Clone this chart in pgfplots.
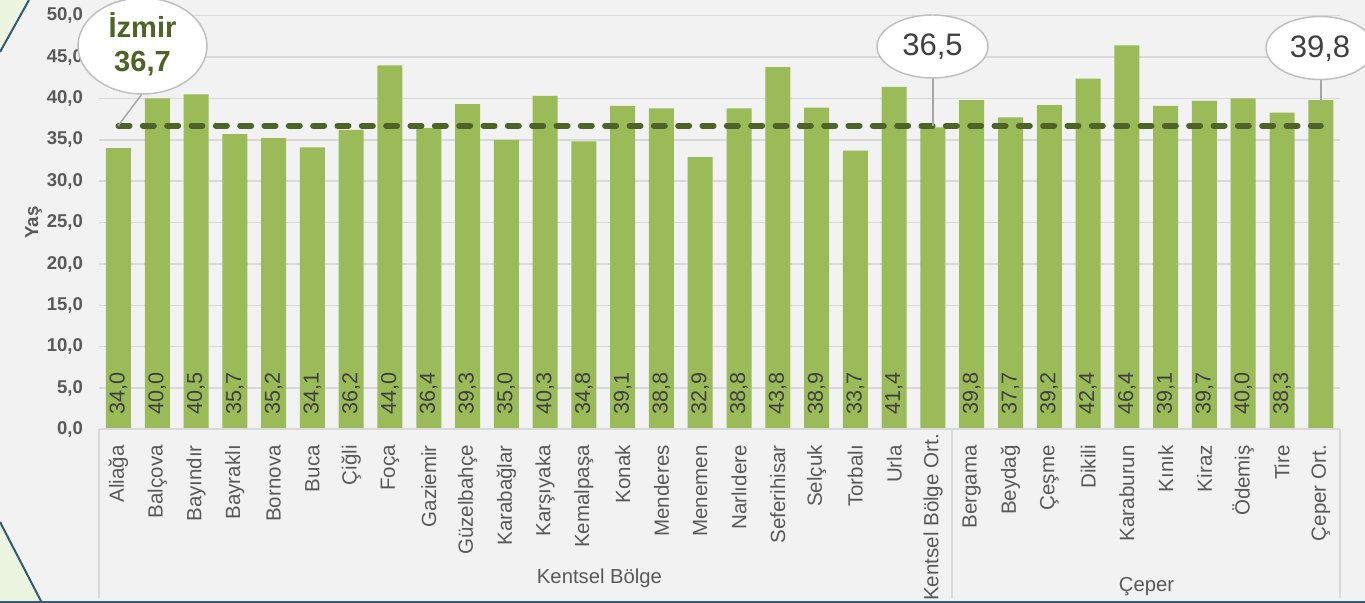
\documentclass[border=0pt]{standalone}
\usepackage{fontspec}
\setmainfont{Liberation Sans}
\usepackage{pgfplots}
\pgfplotsset{compat=1.18}
\usepackage{pgfplotstable}

\definecolor{bg}{HTML}{F2F2F2}
\definecolor{barg}{HTML}{9BBB59}
\definecolor{olive}{HTML}{4F6228}
\definecolor{txt}{HTML}{595959}
\definecolor{valtxt}{HTML}{404040}
\definecolor{gridc}{HTML}{D9D9D9}
\definecolor{callb}{HTML}{BFBFBF}
\definecolor{pointer}{HTML}{A6A6A6}
\definecolor{lgreen}{HTML}{EBF5DF}
\definecolor{navy}{HTML}{325A70}

% ilceler (Kentsel Bolge 0-20, Ceper 22-30)
\pgfplotstableread{
x y
0 34.0
1 40.0
2 40.5
3 35.7
4 35.2
5 34.1
6 36.2
7 44.0
8 36.4
9 39.3
10 35.0
11 40.3
12 34.8
13 39.1
14 38.8
15 32.9
16 38.8
17 43.8
18 38.9
19 33.7
20 41.4
22 39.8
23 37.7
24 39.2
25 42.4
26 46.4
27 39.1
28 39.7
29 40.0
30 38.3
}\ilce
% bolge ortalamalari
\pgfplotstableread{
x y
21 36.5
31 39.8
}\ort
% Izmir ortalamasi
\pgfplotstableread{
x y
0 36.7
31 36.7
}\izmir

\begin{document}
\begin{tikzpicture}
\useasboundingbox (0,0) rectangle (1023.75pt,452.25pt);
\clip (0,0) rectangle (1023.75pt,452.25pt);

% background, pixel coordinates (y down)
\begin{scope}[x=0.75pt, y=-0.75pt, shift={(0,452.25pt)}]
  \fill[bg] (0,0) rectangle (1365,603);
  \fill[lgreen] (0,0) -- (29,0) -- (0,52) -- cycle;
  \draw[navy, line width=1.5pt] (29,0) -- (0,52);
  \fill[lgreen] (0,522) -- (42,603) -- (0,603) -- cycle;
  \draw[navy, line width=1.5pt] (0,522) -- (42,603);
  \draw[navy, line width=1.8pt] (0,602) -- (1365,602);
\end{scope}

\begin{axis}[
  at={(74.33pt,130.13pt)}, anchor=south west,
  scale only axis, width=930.8pt, height=310.35pt,
  xmin=-0.5, xmax=31.5, ymin=0, ymax=50,
  clip=false,
  axis line style={draw=none},
  major tick length=0pt,
  ytick={0,5,...,50},
  ymajorgrids, grid style={gridc, line width=1.1pt},
  xtick={0,...,31},
  xticklabels={Aliağa,Balçova,Bayındır,Bayraklı,Bornova,Buca,Çiğli,Foça,Gaziemir,Güzelbahçe,Karabağlar,Karşıyaka,Kemalpaşa,Konak,Menderes,Menemen,Narlıdere,Seferihisar,Selçuk,Torbalı,Urla,Kentsel Bölge Ort.\hspace*{-8.25pt},Bergama,Beydağ,Çeşme,Dikili,Karaburun,Kınık,Kiraz,Ödemiş,Tire,Çeper Ort.},
  /pgf/number format/assume math mode=true,
  yticklabel={\pgfmathprintnumber[fixed,fixed zerofill,precision=1,use comma]{\tick}},
  yticklabel style={font=\fontsize{13.9}{16}\selectfont\bfseries, text=txt, inner sep=0pt},
  yticklabel shift=12pt,
  xticklabel style={font=\fontsize{15.4}{18}\selectfont, text=txt, rotate=90, anchor=east, inner sep=0pt},
  xticklabel shift=11.6pt,
  ylabel={Yaş},
  ylabel style={font=\fontsize{14}{16}\selectfont\bfseries, text=txt},
]
\addplot[ybar, bar width=18.75pt, bar shift=0pt, fill=barg, draw=none,
  visualization depends on={rawy \as \rawy},
  nodes near coords={\pgfmathprintnumber[fixed,fixed zerofill,precision=1,use comma]{\pgfplotspointmeta}},
  every node near coord/.style={font=\fontsize{16.2}{18}\selectfont, text=valtxt,
    yshift={-\rawy*6.207pt+11.25pt}, rotate=90, anchor=west, inner sep=0pt},
] table[x=x, y=y] {\ilce};
\addplot[ybar, bar width=18.75pt, bar shift=0pt, fill=barg, draw=none]
  table[x=x, y=y] {\ort};
\addplot[olive, line width=4.5pt, line cap=round, dash pattern=on 8.25pt off 10pt]
  table[x=x, y=y] {\izmir};
\end{axis}

% separators, group labels and callouts (pixel coordinates)
\begin{scope}[x=0.75pt, y=-0.75pt, shift={(0,452.25pt)}]
  \draw[gridc, line width=1.5pt] (99.1,429.5) -- (1340.2,429.5);
  \draw[gridc, line width=1.5pt] (99.1,429.5) -- (99.1,598);
  \draw[gridc, line width=1.5pt] (952.3,429.5) -- (952.3,598);
  \draw[gridc, line width=1.5pt] (1340.2,429.5) -- (1340.2,598);
  \node[anchor=base, text=txt, font=\fontsize{15.2}{18}\selectfont] at (599.5,584) {Kentsel Bölge};
  \node[anchor=base, text=txt, font=\fontsize{15.2}{18}\selectfont] at (1146.5,592) {Çeper};

  \draw[pointer, line width=1.1pt] (142,94) -- (118,126);
  \draw[callb, fill=white, line width=1.1pt] (142.5,46) ellipse [x radius=64.5, y radius=48];
  \node[align=center, text=olive, font=\fontsize{21.8}{25.5}\selectfont\bfseries] at (142.5,44) {İzmir\\36,7};

  \draw[pointer, line width=1.1pt] (933,78) -- (933,126);
  \draw[callb, fill=white, line width=1.1pt] (932.5,46.5) ellipse [x radius=55.5, y radius=31.5];
  \node[text=valtxt, font=\fontsize{23.3}{26}\selectfont] at (932.5,46.5) {36,5};

  \draw[pointer, line width=1.1pt] (1321,79.5) -- (1321,101);
  \draw[callb, fill=white, line width=1.1pt] (1320,48) ellipse [x radius=54, y radius=31.5];
  \node[text=valtxt, font=\fontsize{23.3}{26}\selectfont] at (1320,49) {39,8};
\end{scope}
\end{tikzpicture}
\end{document}
